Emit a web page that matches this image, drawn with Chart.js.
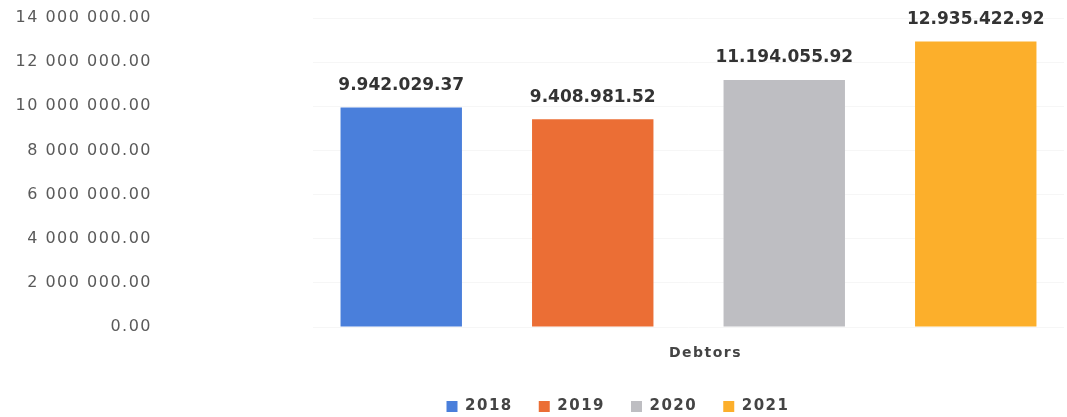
<!DOCTYPE html>
<html>
<head>
<meta charset="utf-8">
<script src="https://cdn.jsdelivr.net/npm/chart.js@4"></script>
<style>
  html, body { margin: 0; padding: 0; background: #ffffff; }
  #wrap { width: 1067px; height: 417px; position: relative; }
</style>
</head>
<body>
<div id="wrap"><canvas id="c"></canvas></div>
<script>
const categories = ["Debtors"];
const seriesNames = ["2018", "2019", "2020", "2021"];
const values2018 = [9942029.37];
const values2019 = [9408981.52];
const values2020 = [11194055.92];
const values2021 = [12935422.92];
const seriesColors = ["#4A7FDB", "#EB6E35", "#BEBEC2", "#FCAF2B"];
const yTicks = [0, 2000000, 4000000, 6000000, 8000000, 10000000, 12000000, 14000000];

const seriesValues = [values2018, values2019, values2020, values2021];

function fmtTick(v) {
  const s = Math.round(v).toString().replace(/\B(?=(\d{3})+(?!\d))/g, " ");
  return s + ".00";
}
function fmtLabel(v) {
  const parts = v.toFixed(2).split(".");
  return parts[0].replace(/\B(?=(\d{3})+(?!\d))/g, ".") + "." + parts[1];
}

const spacingPlugin = {
  id: "spacing",
  beforeLayout(chart) { chart.ctx.letterSpacing = "1.5px"; },
  beforeDraw(chart) { chart.ctx.letterSpacing = "1.5px"; },
  afterLayout(chart) {
    const l = chart.legend;
    if (l) { l.left += 86; l.right += 86; l.top += 7; l.bottom += 7; }
  }
};

const valueLabels = {
  id: "valueLabels",
  afterDatasetsDraw(chart) {
    const ctx = chart.ctx;
    ctx.save();
    ctx.letterSpacing = "0px";
    ctx.font = "bold 17px 'DejaVu Sans'";
    ctx.fillStyle = "#333333";
    ctx.textAlign = "center";
    ctx.textBaseline = "middle";
    chart.data.datasets.forEach((ds, i) => {
      const meta = chart.getDatasetMeta(i);
      meta.data.forEach((bar, j) => {
        ctx.fillText(fmtLabel(ds.data[j]), bar.x, bar.y - 22);
      });
    });
    ctx.restore();
  }
};

new Chart(document.getElementById("c"), {
  type: "bar",
  data: {
    labels: categories,
    datasets: seriesNames.map((n, i) => ({
      label: n,
      data: seriesValues[i],
      backgroundColor: seriesColors[i],
      borderWidth: 0,
      barPercentage: 0.634,
      categoryPercentage: 1.02
    }))
  },
  options: {
    responsive: true,
    maintainAspectRatio: false,
    animation: false,
    layout: { padding: { top: 18, right: 3, bottom: 0, left: 0 } },
    plugins: {
      legend: {
        position: "bottom",
        labels: {
          boxWidth: 11,
          boxHeight: 11,
          padding: 26,
          color: "#444444",
          font: { family: "'DejaVu Sans'", size: 15, weight: "bold" }
        }
      },
      tooltip: { enabled: false }
    },
    scales: {
      x: {
        grid: { display: false, drawTicks: false },
        border: { display: false },
        afterFit(scale) { scale.height = 39; },
        ticks: {
          padding: 18,
          labelOffset: 17,
          color: "#444444",
          font: { family: "'DejaVu Sans'", size: 14, weight: "bold" }
        }
      },
      y: {
        min: 0,
        max: 14000000,
        afterFit(scale) { scale.width = 313; },
        afterBuildTicks(scale) { scale.ticks = yTicks.map(v => ({ value: v })); },
        grid: { color: "rgba(0,0,0,0.035)", drawTicks: true, tickLength: 158, tickColor: "rgba(0,0,0,0)" },
        border: { display: false },
        ticks: {
          padding: 3,
          color: "#5a5a5a",
          font: { family: "'DejaVu Sans'", size: 16 },
          callback: (v) => fmtTick(v)
        }
      }
    }
  },
  plugins: [spacingPlugin, valueLabels]
});
</script>
</body>
</html>
